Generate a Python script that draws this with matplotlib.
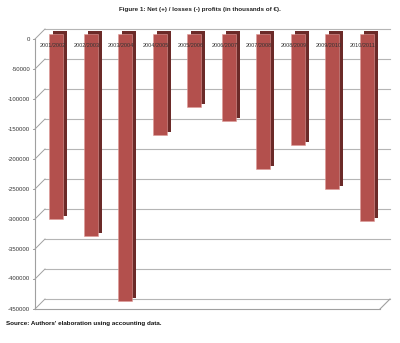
import numpy as np
import matplotlib
matplotlib.use("Agg")
import matplotlib.pyplot as plt
from matplotlib.transforms import ScaledTranslation, IdentityTransform

# Data
seasons = ["2001/2002", "2002/2003", "2003/2004", "2004/2005", "2005/2006",
           "2006/2007", "2007/2008", "2008/2009", "2009/2010", "2010/2011"]
net_profits = [-308000, -336700, -444500, -168800, -122200,
               -145000, -225500, -185500, -257800, -311700]
y_ticks = [0, -50000, -100000, -150000, -200000, -250000, -300000, -350000, -400000, -450000]
y_tick_labels = [str(v) for v in y_ticks]
title = "Figure 1: Net (+) / losses (-) profits (in thousands of €)."
source = "Source: Authors' elaboration using accounting data."

W, H = 400, 343
fig = plt.figure(figsize=(W / 100, H / 100), dpi=100)
fig.patch.set_facecolor("white")
ax = fig.add_axes([35 / W, 1 - 309 / H, 345 / W, 270 / H])
ax.set_xlim(-0.5, 9.5)
ax.set_ylim(-450000, 0)
ax.axis("off")


def off(dx, dy):
    return ax.transData + ScaledTranslation(dx / 100, dy / 100, fig.dpi_scale_trans)


grid_c = "#B5B5B5"
axis_c = "#A0A0A0"
depth = 10
# back wall gridlines and side diagonals
for v, lab in zip(y_ticks, y_tick_labels):
    ax.plot([-0.5, 9.5], [v, v], transform=off(depth, depth), color=grid_c, lw=0.8,
            zorder=1, clip_on=False)
    p = ax.transData.transform((-0.5, v))
    ax.plot([p[0], p[0] + depth], [p[1], p[1] + depth], transform=IdentityTransform(),
            color=axis_c, lw=0.7, zorder=1, clip_on=False)
    ax.plot([p[0] - 2, p[0]], [p[1], p[1]], transform=IdentityTransform(),
            color=axis_c, lw=0.7, zorder=1, clip_on=False)
    ax.text(-0.5, v, lab, transform=off(-5, 0), ha="right", va="center",
            fontsize=4.3, color="#333333", family="Liberation Sans")

# front axis line and floor
ax.plot([-0.5, -0.5], [-450000, 0], color=axis_c, lw=0.8, zorder=1, clip_on=False)
ax.plot([-0.5, 9.5], [-450000, -450000], color=axis_c, lw=0.8, zorder=1, clip_on=False)
p = ax.transData.transform((9.5, -450000))
ax.plot([p[0], p[0] + depth], [p[1], p[1] + depth], transform=IdentityTransform(),
        color=axis_c, lw=0.8, zorder=1, clip_on=False)

x = np.arange(len(seasons))
bw = 0.41
back = ax.bar(x, net_profits, width=bw, color="#6B2A28", edgecolor="none", zorder=2)
for r in back:
    r.set_transform(off(8, 8))
    r.set_clip_on(False)
front = ax.bar(x, net_profits, width=bw, color="#B3504D", edgecolor="#DE9A98", lw=0.4, zorder=3)
for r in front:
    r.set_transform(off(4, 5))
    r.set_clip_on(False)

for i, s in enumerate(seasons):
    ax.text(i, 0, s, transform=off(0, -6), ha="center", va="center", fontsize=4,
            color="#333333", zorder=5, family="Liberation Sans")

fig.text(0.5, 1 - 9 / H, title, ha="center", va="center", fontsize=4.5,
         fontweight="bold", color="#222222", family="Liberation Sans")
fig.text(6 / W, 1 - 323 / H, source, ha="left", va="center", fontsize=4.5,
         fontweight="bold", color="#111111", family="Liberation Sans")

fig.savefig("out.png", dpi=100, facecolor="white")
